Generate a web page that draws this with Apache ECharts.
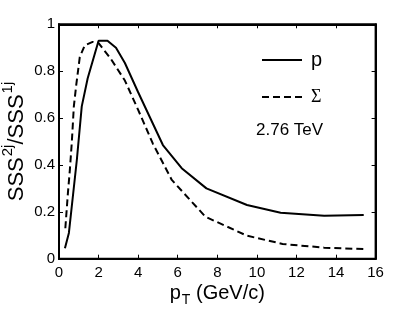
<!DOCTYPE html>
<html><head><meta charset="utf-8">
<script src="https://cdn.jsdelivr.net/npm/echarts@6/dist/echarts.min.js"></script>
<style>html,body{margin:0;padding:0;background:#fff}#c{width:415px;height:313px}</style>
</head><body><div id="c"></div>
<script>
// pT values (GeV/c) and ratios
const pX = [0.3, 0.5, 0.9, 1.15, 1.45, 2.0, 2.45, 2.88, 3.33, 4.0, 5.25, 6.2, 7.45, 9.5, 11.2, 13.4, 15.4];
const pY = [0.045, 0.11, 0.42, 0.65, 0.77, 0.93, 0.93, 0.90, 0.835, 0.71, 0.485, 0.386, 0.30, 0.229, 0.196, 0.183, 0.186];
const sigX = [0.32, 0.45, 0.55, 0.65, 0.75, 0.87, 1.05, 1.3, 1.7, 2.0, 2.6, 3.33, 4.0, 4.75, 5.7, 7.4, 9.5, 11.3, 13.4, 15.4];
const sigY = [0.13, 0.28, 0.38, 0.50, 0.65, 0.74, 0.86, 0.91, 0.925, 0.92, 0.855, 0.76, 0.635, 0.49, 0.336, 0.179, 0.098, 0.063, 0.047, 0.041];
const seriesNames = ['p', 'Σ'];
const energyLabel = '2.76 TeV';

const F = '"Liberation Sans", Arial, sans-serif';
const chart = echarts.init(document.getElementById('c'), null, {renderer: 'canvas'});
const zip = (xs, ys) => xs.map((x, i) => [x, ys[i]]);
const axisCommon = {
  show: true,
  nameMoveOverlap: false,
  axisLine: {show: true, onZero: false, lineStyle: {color: '#000', width: 2}},
  axisTick: {show: true, inside: true, length: 4, lineStyle: {color: '#000', width: 1}},
  splitLine: {show: false}
};
const legendCommon = {
  left: 256, orient: 'vertical', itemWidth: 40, itemHeight: 20,
  itemStyle: {color: 'rgba(0,0,0,0)', borderColor: 'rgba(0,0,0,0)', borderWidth: 0}
};
chart.setOption({
  backgroundColor: '#fff',
  animation: false,
  grid: {left: 59, right: 39.4, top: 24.3, bottom: 54.3, containLabel: false, outerBoundsMode: 'none',
    show: true, borderColor: '#000', borderWidth: 2, backgroundColor: 'rgba(0,0,0,0)'},
  xAxis: [
    Object.assign({type: 'value', min: 0, max: 16, interval: 2, position: 'bottom',
      axisLabel: {color: '#000', fontFamily: F, fontSize: 15, margin: 7},
      name: '{a|p}{s|T}{a| (GeV/c)}', nameLocation: 'middle', nameGap: 24,
      nameTextStyle: {rich: {
        a: {fontFamily: F, fontSize: 20, color: '#000', lineHeight: 22},
        s: {fontFamily: F, fontSize: 14, color: '#000', lineHeight: 14, padding: [12, 0, 0, 1]}
      }}}, axisCommon),
    Object.assign({type: 'value', min: 0, max: 16, interval: 2, position: 'top',
      axisLabel: {show: false}}, axisCommon)
  ],
  yAxis: [
    Object.assign({type: 'value', min: 0, max: 1, interval: 0.2, position: 'left',
      axisLabel: {color: '#000', fontFamily: F, fontSize: 15, margin: 4},
      name: '{a|SSS}{u|2j}{a|/SSS}{u|1j}', nameLocation: 'middle', nameRotate: 90, nameGap: 30,
      nameTextStyle: {rich: {
        a: {fontFamily: F, fontSize: 22, color: '#000', lineHeight: 24},
        u: {fontFamily: F, fontSize: 15, color: '#000', lineHeight: 15, padding: [0, 0, 18, 1]}
      }}}, axisCommon),
    Object.assign({type: 'value', min: 0, max: 1, interval: 0.2, position: 'right',
      axisLabel: {show: false}}, axisCommon)
  ],
  legend: [
    Object.assign({data: [seriesNames[0]], top: 45,
      textStyle: {fontFamily: F, fontSize: 20, color: '#000', padding: [0, 0, 0, 4]}}, legendCommon),
    Object.assign({data: [seriesNames[1]], top: 83,
      textStyle: {fontFamily: '"Liberation Serif", "Times New Roman", serif', fontSize: 18, color: '#000', padding: [0, 0, 0, 4]}}, legendCommon)
  ],
  graphic: [
    {type: 'text', left: 256, top: 122, style: {text: energyLabel, font: '17px ' + F, fill: '#000'}}
  ],
  series: [
    {name: seriesNames[0], type: 'line', data: zip(pX, pY), symbol: 'none', smooth: false,
      xAxisIndex: 0, yAxisIndex: 0,
      lineStyle: {color: '#000', width: 2, type: 'solid'}, itemStyle: {color: '#000'}},
    {name: seriesNames[1], type: 'line', data: zip(sigX, sigY), symbol: 'none', smooth: false,
      xAxisIndex: 1, yAxisIndex: 1,
      lineStyle: {color: '#000', width: 2, type: [7, 4]}, itemStyle: {color: '#000'}}
  ]
});
</script></body></html>
